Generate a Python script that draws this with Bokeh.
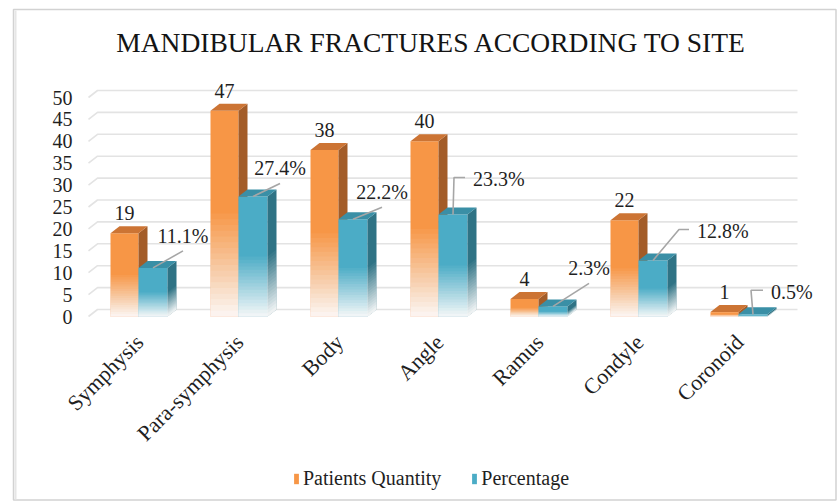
import math
from bokeh.plotting import figure
from bokeh.models import Range1d, FixedTicker, Legend, LegendItem
from bokeh.core.properties import value
from bokeh.embed import file_html
from bokeh.resources import INLINE

# ---------------- data ----------------
categories = ["Symphysis", "Para-symphysis", "Body", "Angle", "Ramus", "Condyle", "Coronoid"]
patients = [19, 47, 38, 40, 4, 22, 1]
percentage = [11.1, 27.4, 22.2, 23.3, 2.3, 12.8, 0.5]
pct_labels = ["11.1%", "27.4%", "22.2%", "23.3%", "2.3%", "12.8%", "0.5%"]
y_ticks = [0, 5, 10, 15, 20, 25, 30, 35, 40, 45, 50]
title_text = "MANDIBULAR FRACTURES ACCORDING TO SITE"

# ---------------- styles / layout ----------------
FONT = "Liberation Serif"
TXT = "#1f1f1f"
W, H = 837, 503
PX_X = 100.0          # px per category unit
PX_Y = 4.38           # px per value unit
ORIGIN_X, ORIGIN_Y = 88, 316   # page pixel of the plot origin (left wall, floor)


def sx(px):
    return (px - ORIGIN_X) / PX_X


def sy(py):
    return (ORIGIN_Y - py) / PX_Y


DX = 9 / PX_X         # 3-D depth offset
DY = 7 / PX_Y
GRID_END = sx(797)

ORANGE = dict(front="#F79646", side="#A35C28", top="#CC7434")
BLUE = dict(front="#4BACC6", side="#2F7385", top="#3A8FA6")
# leader line styles for percentage labels: (dx px, dy px up, horizontal tail px)
leader_style = [(30, 17, 0), (27, 13, 0), (29, 12, 0), (1, 37, 11), (36, 23, 0), (26, 31, 10), (-2, 24, 12)]

p = figure(width=W, height=H, x_range=Range1d(sx(0), sx(W)), y_range=Range1d(sy(H), sy(0)),
           output_backend="svg", toolbar_location=None,
           min_border_left=0, min_border_right=0, min_border_top=0, min_border_bottom=0)
p.grid.visible = False
p.outline_line_color = None
p.background_fill_color = "white"
p.border_fill_color = "white"
p.title.visible = False
p.xaxis.visible = False

# chart border
p.quad(left=[sx(13)], right=[sx(835.5)], bottom=[sy(499.5)], top=[sy(9)],
       fill_color=None, line_color="#d2d2d2", line_width=1.5)
p.segment(x0=[sx(15)], y0=[sy(10)], x1=[sx(15)], y1=[sy(499)], line_color="#e6e6e6", line_width=2)

# title
p.text(x=[sx(431)], y=[sy(42)], text=[title_text], text_align="center", text_baseline="middle",
       text_font=value(FONT), text_font_size="27.5px", text_color="#141414")

# gridlines with a small 3-D side wall
gx = [[0, DX, GRID_END] for v in y_ticks]
gy = [[v, v + DY, v + DY] for v in y_ticks]
p.multi_line(gx, gy, line_color="#E3E3E3", line_width=1.6)

n = len(categories)


def bar3d(off_l, off_r, vals, col):
    lefts = [i + off_l for i in range(n)]
    rights = [i + off_r for i in range(n)]
    front = p.quad(left=lefts, right=rights, bottom=0, top=vals,
                   fill_color=col["front"], line_color=None)
    sxs = [[r, r + DX, r + DX, r] for r in rights]
    sys_ = [[0, DY, v + DY, v] for v in vals]
    p.patches(sxs, sys_, fill_color=col["side"], line_color=None)
    txs = [[l, r, r + DX, l + DX] for l, r in zip(lefts, rights)]
    tys = [[v, v, v + DY, v + DY] for v in vals]
    p.patches(txs, tys, fill_color=col["top"], line_color=None)
    # white fade over the lower half (nested layers)
    K = 18
    amax = 0.94
    A = [amax * (K - b) / K for b in range(K)] + [0.0]
    alphas = [1 - (1 - A[b]) / (1 - A[b + 1]) for b in range(K)]
    fx, fy, fa = [], [], []
    for l, r, v in zip(lefts, rights, vals):
        for b in range(K):
            yt = 0.5 * v * (b + 1) / K
            fx.append([l, r, r + DX, r + DX, r, l])
            fy.append([0, 0, DY, yt + DY, yt, yt])
            fa.append(alphas[b])
    p.patches(fx, fy, fill_color="white", fill_alpha=fa, line_color=None)
    return front


r_or = bar3d(0.22, 0.50, patients, ORANGE)
r_bl = bar3d(0.50, 0.79, percentage, BLUE)

# value labels on orange bars
p.text(x=[i + 0.36 for i in range(n)], y=[v + 20 / PX_Y for v in patients],
       text=[str(v) for v in patients], text_align="center", text_baseline="middle",
       text_font=value(FONT), text_font_size="20px", text_color=TXT)

# percentage labels with leader lines
lx, ly = [], []
c_x, c_y, c_t = [], [], []
l_x, l_y, l_t = [], [], []
for i, (v, lab, (dx, dy, tail)) in enumerate(zip(percentage, pct_labels, leader_style)):
    x0 = i + 0.645
    ex = x0 + dx / PX_X
    ey = v + dy / PX_Y
    if tail:
        lx.append([x0, ex, ex + tail / PX_X])
        ly.append([v, ey, ey])
        l_x.append(ex + (tail + 8) / PX_X)
        l_y.append(ey - 2 / PX_Y)
        l_t.append(lab)
    else:
        lx.append([x0, ex])
        ly.append([v, ey])
        c_x.append(ex)
        c_y.append(ey + 15 / PX_Y)
        c_t.append(lab)
p.multi_line(lx, ly, line_color="#A6A6A6", line_width=1.6)
p.text(x=c_x, y=c_y, text=c_t, text_align="center", text_baseline="middle",
       text_font=value(FONT), text_font_size="20px", text_color=TXT)
p.text(x=l_x, y=l_y, text=l_t, text_align="left", text_baseline="middle",
       text_font=value(FONT), text_font_size="20px", text_color=TXT)

# category labels (rotated)
p.text(x=[i + 0.5 + 0.01 for i in range(n)], y=[sy(338)] * n, text=categories, angle=math.pi / 4,
       text_align="right", text_baseline="middle",
       text_font=value(FONT), text_font_size="22px", text_color=TXT)

# y axis drawn at the left wall
p.yaxis.fixed_location = 0
p.yaxis.ticker = FixedTicker(ticks=y_ticks)
p.yaxis.axis_line_color = None
p.yaxis.major_tick_line_color = None
p.yaxis.minor_tick_line_color = None
p.yaxis.major_tick_out = 0
p.yaxis.major_tick_in = 0
p.yaxis.major_label_standoff = 16
p.yaxis.major_label_text_font = FONT
p.yaxis.major_label_text_font_size = "20px"
p.yaxis.major_label_text_color = TXT

legend = Legend(items=[LegendItem(label="Patients Quantity", renderers=[r_or]),
                       LegendItem(label="Percentage", renderers=[r_bl])],
                location=(293, 13), orientation="horizontal",
                glyph_width=6, glyph_height=13, label_standoff=4, spacing=30,
                label_height=20, padding=0, margin=0, border_line_color=None,
                background_fill_alpha=0,
                label_text_font=FONT, label_text_font_size="20px", label_text_color=TXT)
p.add_layout(legend)

open("out.html", "w").write(file_html(p, INLINE))
